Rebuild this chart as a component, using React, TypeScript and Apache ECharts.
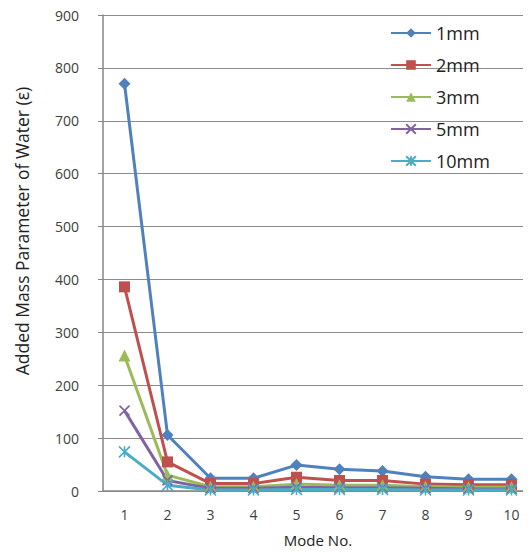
import React, { useEffect, useRef } from "react";
import * as echarts from "echarts";

const modes = ["1", "2", "3", "4", "5", "6", "7", "8", "9", "10"];
const s1mm = [770, 106, 24, 24, 49, 41, 38, 27, 22, 22];
const s2mm = [386, 55, 14, 14, 26, 20, 20, 13, 12, 12];
const s3mm = [256, 30, 8, 8, 13, 11, 11, 8, 7, 7];
const s5mm = [152, 20, 5, 5, 7, 6, 6, 5, 4, 4];
const s10mm = [74, 11, 2, 2, 3, 3, 3, 2, 2, 2];
const yTicks = { min: 0, max: 900, interval: 100 };

const crossPath = "path://M0 0L10 10M10 0L0 10";
const starPath = "path://M5 0L5 10M0 0L10 10M10 0L0 10";

export default function App() {
  const ref = useRef<HTMLDivElement>(null);
  useEffect(() => {
    if (!ref.current) return;
    const chart = echarts.init(ref.current, undefined, { renderer: "svg" });
    const font = "'Open Sans', 'Noto Sans', sans-serif";
    const mk = (name: string, data: number[], color: string, symbol: string, size: number, stroke = false) => ({
      name,
      type: "line",
      data,
      symbol,
      symbolSize: size,
      showSymbol: true,
      lineStyle: { color, width: 3 },
      itemStyle: stroke
        ? { color: "rgba(0,0,0,0)", borderColor: color, borderWidth: 1.6 }
        : { color, borderColor: color, borderWidth: 0 },
      emphasis: { disabled: true },
    });
    chart.setOption({
      animation: false,
      backgroundColor: "#ffffff",
      textStyle: { fontFamily: font },
      grid: { left: 103, top: 15, bottom: 65, right: -2, containLabel: false, outerBoundsMode: "none" },
      legend: {
        orient: "vertical",
        left: 385,
        top: 19,
        itemWidth: 40,
        itemHeight: 12,
        itemGap: 14,
        textStyle: { fontSize: 18, color: "#222", fontFamily: font },
        data: ["1mm", "2mm", "3mm", "5mm", "10mm"],
      },
      graphic: [
        {
          type: "text",
          x: 22,
          y: 231,
          rotation: Math.PI / 2,
          style: {
            text: "Added Mass Parameter of Water (ε)",
            fontSize: 17.5,
            fontFamily: font,
            fill: "#222",
            align: "center",
            verticalAlign: "middle",
          },
        },
      ],
      xAxis: {
        type: "category",
        data: modes,
        boundaryGap: true,
        axisLine: { show: true, lineStyle: { color: "#868686", width: 1.5 } },
        axisTick: { show: false },
        axisLabel: { color: "#404040", fontSize: 14, margin: 16, fontFamily: font },
        name: "Mode No.",
        nameLocation: "middle",
        nameGap: 41,
        nameTextStyle: { color: "#222", fontSize: 15, fontFamily: font },
      },
      yAxis: {
        type: "value",
        min: yTicks.min,
        max: yTicks.max,
        interval: yTicks.interval,
        axisLine: { show: true, lineStyle: { color: "#868686", width: 1.5 } },
        axisTick: { show: true, length: 5, lineStyle: { color: "#868686" } },
        axisLabel: { color: "#404040", fontSize: 14, margin: 24, fontFamily: font },
        splitLine: { show: true, lineStyle: { color: "#8c8c8c", width: 1 } },
      },
      series: [
        mk("1mm", s1mm, "#4F81BD", "diamond", 12),
        mk("2mm", s2mm, "#C0504D", "rect", 11),
        mk("3mm", s3mm, "#9BBB59", "triangle", 12),
        mk("5mm", s5mm, "#8064A2", crossPath, 10, true),
        mk("10mm", s10mm, "#4BACC6", starPath, 11, true),
      ],
    });
    return () => chart.dispose();
  }, []);
  return <div ref={ref} style={{ width: 531, height: 556, margin: -8 }} />;
}
